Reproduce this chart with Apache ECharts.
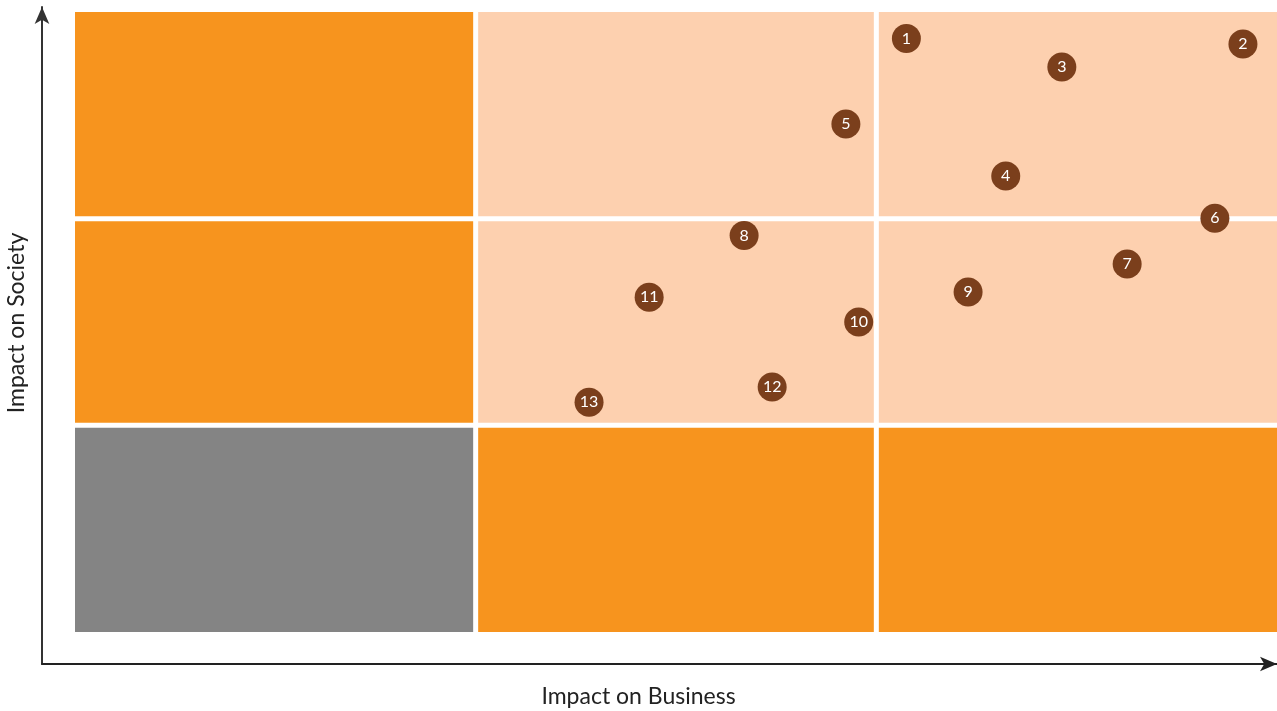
<!DOCTYPE html>
<html>
<head>
<meta charset="utf-8">
<script src="https://cdn.jsdelivr.net/npm/echarts@6/dist/echarts.min.js"></script>
<style>
html,body{margin:0;padding:0;background:#fff;}
#c{width:1277px;height:711px;}
</style>
</head>
<body>
<div id="c"></div>
<script>
// ---- data ----
const pointLabels = ['1','2','3','4','5','6','7','8','9','10','11','12','13'];
const businessImpact = [2.075, 2.915, 2.463, 2.323, 1.924, 2.845, 2.626, 1.670, 2.229, 1.956, 1.433, 1.740, 1.283];
const societyImpact  = [2.872, 2.845, 2.734, 2.206, 2.458, 2.002, 1.781, 1.919, 1.645, 1.500, 1.620, 1.185, 1.112];
// cell grid: rows from top, columns from left
const cellKinds = [
  ['high', 'mid', 'mid'],
  ['high', 'mid', 'mid'],
  ['low',  'high', 'high']
];
const xTitle = 'Impact on Business';
const yTitle = 'Impact on Society';

const kindColor = { high: '#F7941E', mid: '#FDD0AF', low: '#848484' };

const cellData = [];
cellKinds.forEach((row, r) => {
  row.forEach((k, c) => {
    cellData.push([c, 2 - r]);
  });
});

const chart = echarts.init(document.getElementById('c'), null, { renderer: 'canvas' });
const FONT = 'Lato, "Noto Sans", sans-serif';
const HALF_GAP = 2.5;

chart.setOption({
  animation: false,
  backgroundColor: '#ffffff',
  grid: [
    { left: 75, top: 12, width: 1202, height: 620 },
    { left: 42, top: 7, right: 0, bottom: 47 }
  ],
  xAxis: [
    { gridIndex: 0, type: 'value', min: 0, max: 3, show: false },
    { gridIndex: 1, type: 'value', min: 0, max: 1,
      axisLine: { show: true, onZero: false, symbol: ['none', 'arrow'], symbolSize: [11, 17],
        lineStyle: { color: '#222', width: 2 } },
      axisTick: { show: false }, axisLabel: { show: false }, splitLine: { show: false } }
  ],
  yAxis: [
    { gridIndex: 0, type: 'value', min: 0, max: 3, show: false },
    { gridIndex: 1, type: 'value', min: 0, max: 1,
      axisLine: { show: true, onZero: false, symbol: ['none', 'arrow'], symbolSize: [11, 17],
        lineStyle: { color: '#333', width: 2 } },
      axisTick: { show: false }, axisLabel: { show: false }, splitLine: { show: false } }
  ],
  graphic: [
    { type: 'text', left: 'center', top: 685, style: { text: xTitle, font: '23px ' + FONT, fill: '#222' } },
    { type: 'text', x: 5, y: 323, rotation: Math.PI / 2,
      style: { text: yTitle, font: '23px ' + FONT, fill: '#222', align: 'center', verticalAlign: 'top' } }
  ],
  series: [
    {
      type: 'custom',
      xAxisIndex: 0, yAxisIndex: 0,
      silent: true,
      z: 1,
      data: cellData,
      renderItem: function (params, api) {
        const c = api.value(0), r = api.value(1);
        const p0 = api.coord([c, r + 1]);
        const p1 = api.coord([c + 1, r]);
        const x0 = p0[0] + (c > 0 ? HALF_GAP : 0);
        const x1 = p1[0] - (c < 2 ? HALF_GAP : 0);
        const y0 = p0[1] + (r < 2 ? HALF_GAP : 0);
        const y1 = p1[1] - (r > 0 ? HALF_GAP : 0);
        const kind = cellKinds[2 - r][c];
        return {
          type: 'rect',
          shape: { x: x0, y: y0, width: x1 - x0, height: y1 - y0 },
          style: { fill: kindColor[kind] }
        };
      }
    },
    {
      type: 'scatter',
      xAxisIndex: 0, yAxisIndex: 0,
      z: 5,
      symbol: 'circle',
      symbolSize: 29,
      itemStyle: { color: '#7B3F1C', opacity: 1 },
      label: {
        show: true, position: 'inside', color: '#ffffff',
        fontFamily: FONT, fontSize: 16,
        formatter: p => p.data[2]
      },
      data: pointLabels.map((n, i) => [businessImpact[i], societyImpact[i], n])
    }
  ]
});
</script>
</body>
</html>
